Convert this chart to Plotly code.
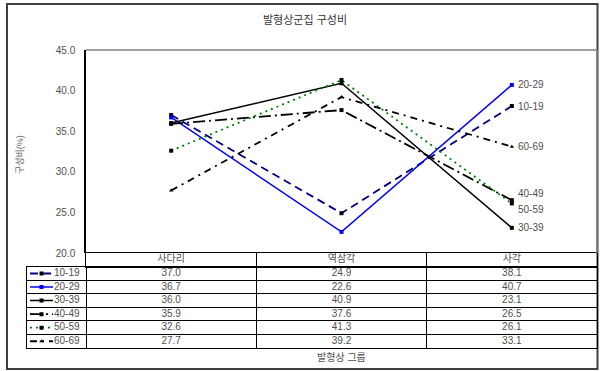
import plotly.graph_objects as go

categories = ["사다리", "역삼각", "사각"]
series_names = ["10-19", "20-29", "30-39", "40-49", "50-59", "60-69"]
v_10_19 = [37.0, 24.9, 38.1]
v_20_29 = [36.7, 22.6, 40.7]
v_30_39 = [36.0, 40.9, 23.1]
v_40_49 = [35.9, 37.6, 26.5]
v_50_59 = [32.6, 41.3, 26.1]
v_60_69 = [27.7, 39.2, 33.1]
values = [v_10_19, v_20_29, v_30_39, v_40_49, v_50_59, v_60_69]

title_text = "발형상군집 구성비"
y_title = "구성비(%)"
x_title = "발형상 그룹"
y_ticks = [20, 25, 30, 35, 40, 45]

W, H = 600, 371
line_colors = ["#000080", "#0000FF", "#000000", "#000000", "#008000", "#000000"]
marker_colors = ["#000000", "#0000FF", "#000000", "#000000", "#000000", "#000000"]
dashes = ["8px,5px", "solid", "solid", "12px,4px,2px,4px", "2px,4px", "7px,5px,2px,5px"]
widths = [1.8, 1.5, 1.5, 1.8, 1.8, 1.8]
symbols = ["square", "square", "square", "square", "square", "triangle-up"]
label_yshift = [0, 0, 0, 7, -6, 0]

FONT = "Liberation Sans, Noto Sans CJK KR, sans-serif"
GRAY = "#505050"

# layout geometry (pixels)
PLOT_L, PLOT_R, PLOT_T, PLOT_B = 86, 597, 50, 253
TAB_L, HEAD_B, TAB_B = 27, 266.7, 348
n_cat = len(categories)
n_ser = len(series_names)
unit = (PLOT_R - PLOT_L) / n_cat

def px_x(p):
    return p / W

def px_y(p):
    return (H - p) / H

def body_x(p):
    return (p - PLOT_L) / unit

fig = go.Figure()
for i, name in enumerate(series_names):
    fig.add_trace(go.Scatter(
        x=categories, y=values[i], mode="lines+markers", name=name,
        line=dict(color=line_colors[i], width=widths[i], dash=dashes[i]),
        marker=dict(symbol=symbols[i], size=4, color=marker_colors[i]),
        showlegend=False, xaxis="x", yaxis="y", hoverinfo="skip",
    ))

# header row of data table
fig.add_trace(go.Scatter(
    x=[c + 0.5 for c in range(n_cat)], y=[0.5] * n_cat, text=categories, mode="text",
    textfont=dict(family=FONT, size=10, color=GRAY), showlegend=False, cliponaxis=False,
    xaxis="x3", yaxis="y3", hoverinfo="skip",
))

# body of data table
tx, ty, tt = [], [], []
for s in range(n_ser):
    for c in range(n_cat):
        tx.append(c + 0.5)
        ty.append(n_ser - s - 0.5)
        tt.append(f"{values[s][c]:.1f}")
fig.add_trace(go.Scatter(
    x=tx, y=ty, text=tt, mode="text", textfont=dict(family=FONT, size=10, color=GRAY),
    showlegend=False, cliponaxis=False, xaxis="x2", yaxis="y2", hoverinfo="skip",
))

# legend keys in first column
sw_a, sw_b, lab = body_x(TAB_L + 3), body_x(TAB_L + 26), body_x(TAB_L + 27)
for i, name in enumerate(series_names):
    yy = n_ser - i - 0.5
    fig.add_trace(go.Scatter(
        x=[sw_a, sw_b], y=[yy, yy], mode="lines",
        line=dict(color=line_colors[i], width=widths[i], dash=dashes[i]),
        showlegend=False, xaxis="x2", yaxis="y2", hoverinfo="skip",
    ))
    fig.add_trace(go.Scatter(
        x=[(sw_a + sw_b) / 2], y=[yy], mode="markers",
        marker=dict(symbol=symbols[i], size=4, color=marker_colors[i]),
        showlegend=False, xaxis="x2", yaxis="y2", hoverinfo="skip",
    ))
fig.add_trace(go.Scatter(
    x=[lab] * n_ser, y=[n_ser - i - 0.5 for i in range(n_ser)], text=series_names,
    mode="text", textposition="middle right", textfont=dict(family=FONT, size=10, color=GRAY),
    showlegend=False, cliponaxis=False, xaxis="x2", yaxis="y2", hoverinfo="skip",
))

annotations = []
for i, name in enumerate(series_names):
    annotations.append(dict(
        x=categories[-1], y=values[i][-1], xref="x", yref="y", text=name,
        showarrow=False, xanchor="left", yanchor="middle", xshift=4, yshift=label_yshift[i],
        font=dict(family=FONT, size=10, color=GRAY),
    ))
annotations.append(dict(x=px_x(305), y=px_y(20), xref="paper", yref="paper", text=title_text,
                        showarrow=False, xanchor="center", yanchor="middle",
                        font=dict(family=FONT, size=11, color="#333333")))
annotations.append(dict(x=px_x(20), y=px_y(155), xref="paper", yref="paper", text=y_title,
                        showarrow=False, textangle=-90, xanchor="center", yanchor="middle",
                        font=dict(family=FONT, size=9, color="#606060")))
annotations.append(dict(x=px_x(341), y=px_y(357), xref="paper", yref="paper", text=x_title,
                        showarrow=False, xanchor="center", yanchor="middle",
                        font=dict(family=FONT, size=10, color=GRAY)))

shapes = [
    dict(type="rect", xref="paper", yref="paper", x0=px_x(7), x1=px_x(597.5), y0=px_y(369), y1=px_y(4),
         line=dict(color="#404040", width=2), layer="below"),
    dict(type="line", xref="x domain", yref="y domain", x0=0, x1=1, y0=1, y1=1,
         line=dict(color="#808080", width=1.5)),
    dict(type="line", xref="x domain", yref="y domain", x0=1, x1=1, y0=0, y1=1,
         line=dict(color="#808080", width=1.5)),
]

grid_common = dict(showticklabels=False, zeroline=False, ticks="", automargin=False,
                   gridcolor="black", gridwidth=1, linecolor="black", linewidth=1,
                   showline=True, mirror=True)

fig.update_layout(
    width=W, height=H, template="none",
    margin=dict(l=0, r=0, t=0, b=0, autoexpand=False),
    paper_bgcolor="white", plot_bgcolor="rgba(0,0,0,0)",
    xaxis=dict(domain=[px_x(PLOT_L), px_x(PLOT_R)], range=[-0.5, n_cat - 0.5], showticklabels=False,
               showgrid=False, zeroline=False, showline=False,
               ticks="", automargin=False),
    yaxis=dict(domain=[px_y(PLOT_B), px_y(PLOT_T)], range=[20, 45], tickvals=y_ticks, tickformat=".1f",
               showgrid=False, zeroline=False, showline=True, linecolor="black", linewidth=1.5,
               ticks="", ticklabelstandoff=7, automargin=False,
               tickfont=dict(family=FONT, size=10, color=GRAY)),
    xaxis3=dict(domain=[px_x(PLOT_L), px_x(PLOT_R)], range=[0, n_cat], anchor="y3",
                tickvals=list(range(n_cat + 1)), showgrid=True, **grid_common),
    yaxis3=dict(domain=[px_y(HEAD_B), px_y(PLOT_B)], range=[0, 1], anchor="x3",
                showgrid=False, **grid_common),
    xaxis2=dict(domain=[px_x(TAB_L), px_x(PLOT_R)], range=[body_x(TAB_L), n_cat], anchor="y2",
                tickvals=list(range(n_cat + 1)), showgrid=True, **grid_common),
    yaxis2=dict(domain=[px_y(TAB_B), px_y(HEAD_B)], range=[0, n_ser], anchor="x2",
                tickvals=list(range(n_ser + 1)), showgrid=True, **grid_common),
    annotations=annotations, shapes=shapes,
)

fig.write_html("out.html")
